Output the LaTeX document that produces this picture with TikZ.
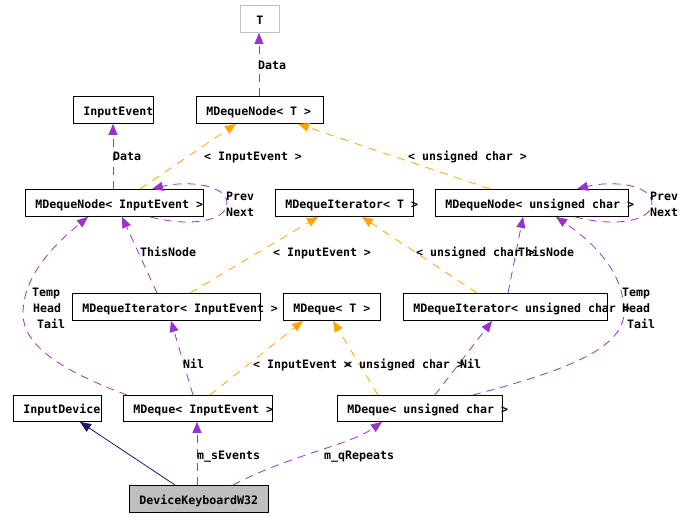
\documentclass[tikz,border=0pt]{standalone}
\usepackage{fontspec}
\newfontfamily\dmono{DejaVu Sans Mono}
\usetikzlibrary{arrows.meta,calc}
\definecolor{pur}{HTML}{9A32CD}
\definecolor{org}{HTML}{FFA500}
\definecolor{navyc}{HTML}{191970}
\definecolor{gbox}{HTML}{BFBFBF}
\newcommand\bt[2]{\makebox[#1pt][l]{#2}}
\begin{document}
\begin{tikzpicture}[x=1pt,y=-1pt,
  every node/.style={font=\dmono\bfseries\fontsize{11.6}{13}\selectfont},
  box/.style={draw, line width=0.9pt, anchor=north west, inner xsep=10pt, inner ysep=0pt,
    minimum height=27pt, text height=14pt, text depth=3pt},
  lbl/.style={inner sep=0pt, anchor=base west},
  tipx/.style={-{Triangle[length=11pt,width=9pt]}},
  use/.style={pur, line width=0.8pt, dash pattern=on 8pt off 6pt, tipx},
  tmpl/.style={org, line width=0.8pt, dash pattern=on 8pt off 7pt, tipx},
  inh/.style={navyc, line width=0.8pt, tipx}]
\useasboundingbox (0,0) rectangle (681,517);
% boxes
\node[box, draw=gbox, minimum width=39pt, inner xsep=0pt] (T) at (240,5) {T};
\node[box, minimum width=80pt] (ie) at (73,96) {\bt{60}{InputEvent}};
\node[box, minimum width=127pt] (ndT) at (196,96) {\bt{107}{MDequeNode< T >}};
\node[box, minimum width=178pt] (ndIE) at (25,189) {\bt{158}{MDequeNode< InputEvent >}};
\node[box, minimum width=138pt] (itT) at (275,189) {\bt{118}{MDequeIterator< T >}};
\node[box, minimum width=193pt] (ndUC) at (435,189) {\bt{173}{MDequeNode< unsigned char >}};
\node[box, minimum width=188pt] (itIE) at (72,293) {\bt{168}{MDequeIterator< InputEvent >}};
\node[box, minimum width=97pt] (dqT) at (283,293) {\bt{77}{MDeque< T >}};
\node[box, minimum width=204pt] (itUC) at (403,293) {\bt{184}{MDequeIterator< unsigned char >}};
\node[box, minimum width=88pt, minimum height=26pt] (idev) at (13,395) {\bt{68}{InputDevice}};
\node[box, minimum width=149pt, minimum height=26pt] (dqIE) at (123,395) {\bt{129}{MDeque< InputEvent >}};
\node[box, minimum width=165pt, minimum height=26pt] (dqUC) at (337,395) {\bt{145}{MDeque< unsigned char >}};
\node[box, fill=gbox, minimum width=139pt] (dk) at (129,485) {\bt{119}{DeviceKeyboardW32}};
% edges
\draw[use] ([xshift=63pt]ndT.north west) -- ([xshift=19pt]T.south west);
\draw[use] ([xshift=88pt]ndIE.north west) -- ([xshift=40pt]ie.south west);
\draw[tmpl] ([xshift=115pt]ndIE.north west) -- ([xshift=40pt]ndT.south west);
\draw[tmpl] ([xshift=55pt]ndUC.north west) -- ([xshift=102pt]ndT.south west);
\draw[use] ([xshift=125pt]ndIE.south west) .. controls (188,227) and (227,222) .. (227,203)
  .. controls (227,185) and (188,180) .. ([xshift=127pt]ndIE.north west);
\draw[use] ([xshift=140pt]ndUC.south west) .. controls (613,227) and (652,222) .. (652,203)
  .. controls (652,185) and (613,180) .. ([xshift=142pt]ndUC.north west);
\draw[tmpl] ([xshift=118pt]itIE.north west) -- ([xshift=43pt]itT.south west);
\draw[tmpl] ([xshift=74pt]itUC.north west) -- ([xshift=87pt]itT.south west);
\draw[use] ([xshift=85pt]itIE.north west) -- ([xshift=97pt]ndIE.south west);
\draw[use] ([xshift=105pt]itUC.north west) -- ([xshift=88pt]ndUC.south west);
\draw[use] ([xshift=4pt]dqIE.north west) .. controls (60,370) and (22,345) .. (23,312)
  .. controls (24,272) and (60,240) .. ([xshift=63pt]ndIE.south west);
\draw[use] ([xshift=136pt]dqUC.north west) .. controls (560,372) and (624,350) .. (624,312)
  .. controls (624,270) and (590,240) .. ([xshift=121pt]ndUC.south west);
\draw[use] ([xshift=70pt]dqIE.north west) -- ([xshift=99pt]itIE.south west);
\draw[use] ([xshift=98pt]dqUC.north west) -- ([xshift=89pt]itUC.south west);
\draw[tmpl] ([xshift=87pt]dqIE.north west) -- ([xshift=20pt]dqT.south west);
\draw[tmpl] ([xshift=41pt]dqUC.north west) -- ([xshift=50pt]dqT.south west);
\draw[inh] ([xshift=46pt]dk.north west) -- ([xshift=67pt]idev.south west);
\draw[use] ([xshift=68pt]dk.north west) -- ([xshift=74pt]dqIE.south west);
\draw[use] ([xshift=104pt]dk.north west) .. controls (290,455) and (350,445) .. ([xshift=45pt]dqUC.south west);
% labels
\node[lbl] (l1) at (258,69) {Data};
\node[lbl] (l2) at (113,160) {Data};
\node[lbl] (l3) at (204,160) {< InputEvent >};
\node[lbl] (l4) at (408,160) {< unsigned char >};
\node[lbl] (l5a) at (226,200) {Prev};
\node[lbl] (l5b) at (226,216) {Next};
\node[lbl] (l6a) at (650,200) {Prev};
\node[lbl] (l6b) at (650,216) {Next};
\node[lbl] (l7) at (273,256) {< InputEvent >};
\node[lbl] (l8) at (416,256) {< unsigned char >};
\node[lbl] (l9) at (140,256) {ThisNode};
\node[lbl] (l10) at (518,256) {ThisNode};
\node[lbl] (l11a) at (32,296) {Temp};
\node[lbl] (l11b) at (33,312) {Head};
\node[lbl] (l11c) at (37,328) {Tail};
\node[lbl] (l12a) at (622,296) {Temp};
\node[lbl] (l12b) at (622,312) {Head};
\node[lbl] (l12c) at (627,328) {Tail};
\node[lbl] (l13) at (183,368) {Nil};
\node[lbl] (l14) at (460,368) {Nil};
\node[lbl] (l15) at (253,368) {< InputEvent >};
\node[lbl] (l16) at (345,368) {< unsigned char >};
\node[lbl] (l18) at (197,459) {m\_sEvents};
\node[lbl] (l19) at (324,459) {m\_qRepeats};
\end{tikzpicture}
\end{document}
